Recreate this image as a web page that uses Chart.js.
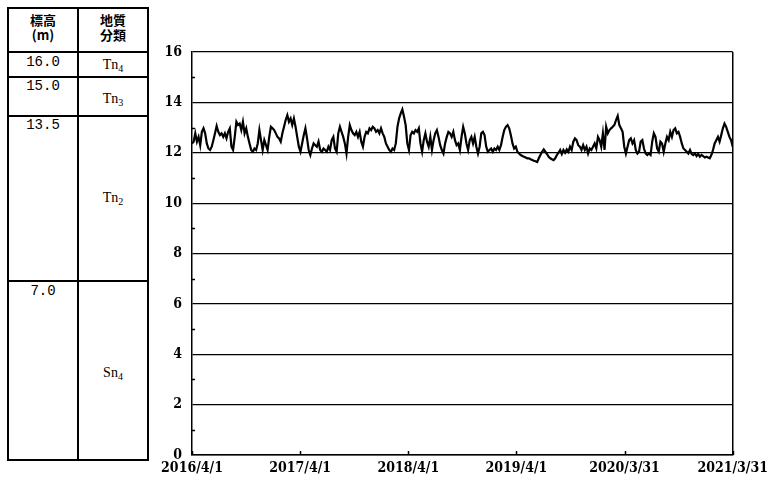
<!DOCTYPE html>
<html>
<head>
<meta charset="utf-8">
<script src="https://cdn.jsdelivr.net/npm/chart.js@4.4.0/dist/chart.umd.min.js"></script>
<style>
  html, body { margin: 0; padding: 0; background: #fff; }
  body { width: 773px; height: 486px; position: relative; overflow: hidden; }
  .ln { position: absolute; background: #000; }
  .tx { position: absolute; color: #000; text-align: center; }
  .hd { font-family: "Noto Sans CJK JP", sans-serif; font-weight: 700; font-size: 13px; line-height: 15px; }
  .num { font-family: "Liberation Mono", monospace; font-size: 14px; line-height: 14px; }
  .geo { font-family: "Liberation Serif", serif; font-size: 14px; line-height: 14px; }
  .geo sub { font-size: 10px; vertical-align: -3px; line-height: 0; }
  #chartBox { position: absolute; left: 150px; top: 0; width: 623px; height: 486px; }
</style>
</head>
<body>
<!-- geological column table -->
<div class="ln" style="left:7px;top:7px;width:2px;height:454px"></div>
<div class="ln" style="left:77px;top:7px;width:2px;height:454px"></div>
<div class="ln" style="left:147px;top:7px;width:2px;height:454px"></div>
<div class="ln" style="left:7px;top:7px;width:142px;height:2px"></div>
<div class="ln" style="left:7px;top:51px;width:142px;height:2px"></div>
<div class="ln" style="left:7px;top:76px;width:142px;height:2px"></div>
<div class="ln" style="left:7px;top:115px;width:142px;height:2px"></div>
<div class="ln" style="left:7px;top:280px;width:142px;height:2px"></div>
<div class="ln" style="left:7px;top:459px;width:142px;height:2px"></div>

<div class="tx hd" style="left:9px;width:68px;top:12px">標高<br>(m)</div>
<div class="tx hd" style="left:79px;width:68px;top:12px">地質<br>分類</div>

<div class="tx num" style="left:9px;width:68px;top:55px">16.0</div>
<div class="tx num" style="left:9px;width:68px;top:79px">15.0</div>
<div class="tx num" style="left:9px;width:68px;top:118px">13.5</div>
<div class="tx num" style="left:9px;width:68px;top:284px">7.0</div>

<div class="tx geo" style="left:79px;width:68px;top:58px">Tn<sub>4</sub></div>
<div class="tx geo" style="left:79px;width:68px;top:92px">Tn<sub>3</sub></div>
<div class="tx geo" style="left:79px;width:68px;top:191px">Tn<sub>2</sub></div>
<div class="tx geo" style="left:79px;width:68px;top:366px">Sn<sub>4</sub></div>

<div id="chartBox"><canvas id="c" width="623" height="486"></canvas></div>

<script>
// x tick positions (days since 2016/4/1) and their labels
const tickDays = [0, 365, 730, 1095, 1460, 1825];
const tickLabels = ["2016/4/1", "2017/4/1", "2018/4/1", "2019/4/1", "2020/3/31", "2021/3/31"];
const periodDays = 1825;
const yTicks = [0, 2, 4, 6, 8, 10, 12, 14, 16];

// groundwater level (m) at ~5.5-day intervals, 2016/4/1 → 2021/3/31
const waterLevel = [
  // 2016/4 - 2017/8
  12.37,12.44,12.77,12.44,12.63,12.30,12.83,12.97,12.77,12.37,12.17,12.11,12.24,12.50,12.77,13.06,12.83,12.70,12.77,12.63,
  12.77,12.57,12.83,12.97,12.24,12.11,12.63,13.23,13.10,13.16,12.90,13.23,12.77,12.97,12.63,12.37,12.11,12.04,12.17,12.11,
  12.37,12.90,12.50,12.11,12.50,12.30,12.11,12.63,13.03,12.97,12.90,12.77,12.63,12.57,12.44,12.77,13.03,13.30,13.49,13.23,
  13.36,13.10,13.36,13.03,12.63,12.24,12.04,12.37,12.70,12.97,12.57,12.11,11.91,12.17,12.37,12.30,12.24,12.44,12.11,12.04,
  // 2017/9 - 2018/12
  12.17,12.11,12.04,12.24,12.11,12.50,12.63,12.17,12.04,12.77,13.03,12.83,12.63,12.37,11.97,12.63,13.10,12.90,12.77,12.70,
  12.83,12.63,12.83,12.44,12.24,12.63,12.83,12.77,12.97,12.90,13.03,12.97,12.83,12.90,12.77,12.97,12.77,12.63,12.37,12.24,
  12.11,12.04,12.17,12.11,12.37,13.03,13.36,13.56,13.72,13.43,13.10,12.37,12.11,12.70,12.83,12.77,12.90,12.83,12.97,12.37,
  12.04,12.50,12.77,12.44,12.24,12.63,12.11,12.50,12.77,12.90,12.63,12.30,12.11,11.97,12.37,12.63,12.83,12.77,12.63,12.83,
  12.50,12.30,
  // 2019/1 - 2020/3
  12.37,12.11,12.63,13.03,12.77,12.37,12.11,12.50,12.63,12.37,12.63,12.24,11.97,12.24,12.77,12.83,12.70,12.24,12.04,12.11,
  12.17,12.04,12.17,12.11,12.24,12.11,12.30,12.63,12.90,13.03,13.10,12.97,12.70,12.37,12.17,12.24,12.04,11.97,11.91,11.87,
  11.84,11.81,11.78,11.78,11.74,11.71,11.68,11.66,11.63,11.78,11.91,12.04,12.13,12.04,11.95,11.84,11.78,11.74,11.71,11.78,
  11.91,12.00,12.11,11.95,12.11,12.00,12.13,12.04,12.24,12.11,12.44,12.57,12.50,12.30,12.24,12.11,12.30,12.11,12.24,11.97,
  12.17,12.11,
  // 2020/4 - 2021/3
  12.24,12.37,12.17,12.63,12.50,12.24,12.77,12.11,13.03,12.77,12.90,12.97,13.03,13.10,13.30,13.46,13.10,12.97,12.83,12.24,
  11.97,12.24,12.50,12.57,12.37,12.50,12.11,11.97,12.04,12.44,12.50,12.17,11.97,11.91,11.97,11.91,12.44,12.77,12.63,12.17,
  12.04,12.44,12.37,12.04,12.37,12.63,12.50,12.83,12.63,12.90,12.97,12.77,12.83,12.63,12.37,12.17,12.11,12.04,11.97,12.11,
  11.95,11.91,11.97,11.87,11.95,11.84,11.91,11.87,11.81,11.84,11.81,11.78,11.91,12.11,12.37,12.50,12.63,12.44,12.70,12.97,
  13.16,13.03,12.83,12.63,12.50,12.24
];

const stepDays = periodDays / (waterLevel.length - 1);
const points = waterLevel.map((v, i) => ({ x: i * stepDays, y: v }));

const minorTicks = {
  id: 'minorTicks',
  afterDraw(chart) {
    const ctx = chart.ctx, a = chart.chartArea;
    const xs = chart.scales.x, ys = chart.scales.y;
    ctx.save();
    ctx.strokeStyle = '#000';
    ctx.lineWidth = 1.5;
    ctx.beginPath();
    for (let v = 1; v < 16; v += 2) {
      const y = Math.round(ys.getPixelForValue(v)) + 0.5;
      ctx.moveTo(a.left, y); ctx.lineTo(a.left + 3, y);
    }
    tickDays.forEach(d => {
      const x = Math.round(xs.getPixelForValue(d)) + 0.5;
      ctx.moveTo(x, a.bottom); ctx.lineTo(x, a.bottom - 4);
    });
    ctx.stroke();
    ctx.restore();
  }
};

const tickFont = { family: '"DejaVu Serif Condensed", "DejaVu Serif", serif', size: 14, weight: 'bold' };

new Chart(document.getElementById('c'), {
  type: 'line',
  data: {
    datasets: [{
      data: points,
      borderColor: '#000',
      borderWidth: 2.2,
      pointRadius: 0,
      tension: 0,
      fill: false
    }]
  },
  options: {
    responsive: false,
    animation: false,
    devicePixelRatio: 1,
    layout: { padding: { top: 52, right: 38, left: 0, bottom: 0 } },
    plugins: { legend: { display: false }, tooltip: { enabled: false } },
    scales: {
      x: {
        type: 'linear',
        min: 0, max: periodDays,
        afterBuildTicks(scale) { scale.ticks = tickDays.map(v => ({ value: v })); },
        afterFit(scale) { scale.height = 31; },
        ticks: {
          autoSkip: false, maxRotation: 0, minRotation: 0, padding: 5,
          color: '#000', font: tickFont,
          callback(value) { const i = tickDays.indexOf(value); return i >= 0 ? tickLabels[i] : ''; }
        },
        grid: {
          drawTicks: false,
          color: (c) => c.index === tickDays.length - 1 ? '#000' : 'rgba(0,0,0,0)',
          lineWidth: 1.5
        },
        border: { display: true, color: '#000', width: 1.5 }
      },
      y: {
        min: 0, max: 16,
        afterBuildTicks(scale) { scale.ticks = yTicks.map(v => ({ value: v })); },
        afterFit(scale) { scale.width = 42; },
        ticks: { padding: 10, color: '#000', font: tickFont },
        grid: { drawTicks: false, color: '#000', lineWidth: 1.2 },
        border: { display: true, color: '#000', width: 1.5 }
      }
    }
  },
  plugins: [minorTicks]
});
</script>
</body>
</html>
